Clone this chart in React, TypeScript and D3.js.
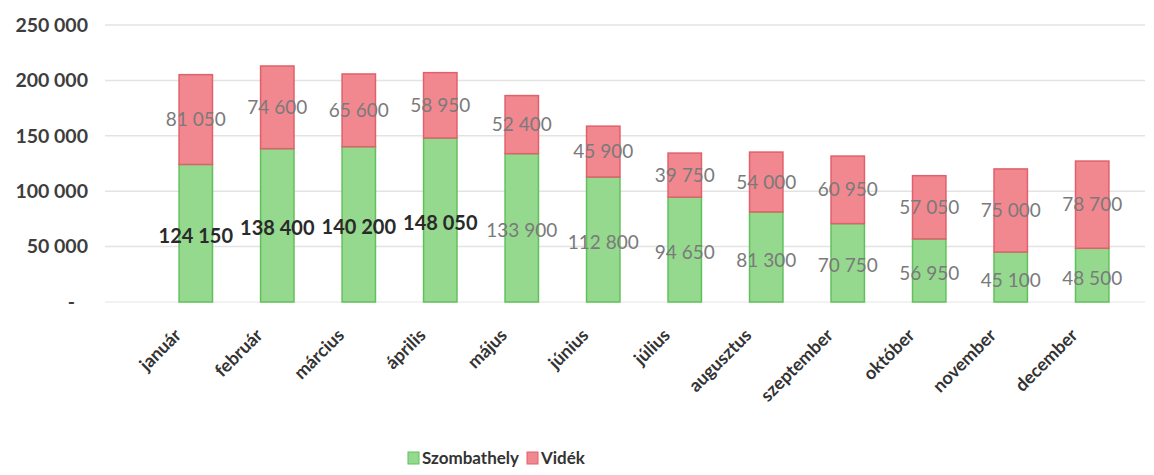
import React from "react";
import * as d3 from "d3";

const months = [
  "január", "február", "március", "április", "május", "június",
  "július", "augusztus", "szeptember", "október", "november", "december",
];
const szombathely = [124150, 138400, 140200, 148050, 133900, 112800, 94650, 81300, 70750, 56950, 45100, 48500];
const videk = [81050, 74600, 65600, 58950, 52400, 45900, 39750, 54000, 60950, 57050, 75000, 78700];
const yTicks = [0, 50000, 100000, 150000, 200000, 250000];
const seriesNames = ["Szombathely", "Vidék"];

const W = 1154;
const H = 475;
const FONT = "Lato, 'Open Sans', sans-serif";

const GREEN = "#94d98e";
const GREEN_EDGE = "#62c05c";
const PINK = "#f2888f";
const PINK_EDGE = "#e0606b";

const fmt = (v: number) => (v === 0 ? "-" : d3.format(",")(v).replace(/,/g, " "));

const App: React.FC = () => {
  const x = d3.scaleBand<string>().domain(months).range([131, 1157]).padding(0.59);
  const y = d3.scaleLinear().domain([0, 250000]).range([302, 25]);

  const rows = months.map((m, i) => ({ m, s: szombathely[i], v: videk[i] }));

  return (
    <svg width={W} height={H} style={{ display: "block", position: "absolute", left: 0, top: 0 }} fontFamily={FONT}>
      <rect width={W} height={H} fill="#ffffff" />
      {/* gridlines */}
      {yTicks.slice(1).map((t) => (
        <line key={t} x1={105} x2={1145} y1={y(t)} y2={y(t)} stroke="#e3e3e3" strokeWidth={1.5} />
      ))}
      <line x1={105} x2={1145} y1={y(0)} y2={y(0)} stroke="#eeeeee" strokeWidth={1.5} />
      {/* y labels */}
      {yTicks.map((t) => (
        <text key={t} x={t === 0 ? 75 : 88} y={y(t)} dy="0.35em" textAnchor="end" fontSize={19.5} fontWeight={700} fill="#3d3d3d">
          {fmt(t)}
        </text>
      ))}
      {/* bars */}
      {rows.map((r) => {
        const bx = x(r.m) || 0;
        const bw = x.bandwidth();
        return (
          <g key={r.m}>
            <rect x={bx} y={y(r.s)} width={bw} height={y(0) - y(r.s)} fill={GREEN} stroke={GREEN_EDGE} strokeWidth={1.5} />
            <rect x={bx} y={y(r.s + r.v)} width={bw} height={y(r.s) - y(r.s + r.v)} fill={PINK} stroke={PINK_EDGE} strokeWidth={1.5} />
          </g>
        );
      })}
      {/* data labels */}
      {rows.map((r, i) => {
        const cx = (x(r.m) || 0) + x.bandwidth() / 2;
        const bold = i < 4;
        return (
          <g key={"l" + r.m}>
            <text x={cx} y={y(r.s / 2) + 3} dy="0.35em" textAnchor="middle" fontSize={bold ? 20 : 19} fontWeight={bold ? 700 : 400} fill={bold ? "#2a2a2a" : "#7a7a7a"}>
              {fmt(r.s)}
            </text>
            <text x={cx} y={y(r.s + r.v / 2)} dy="0.35em" textAnchor="middle" fontSize={19} fill="#7a7a7a">
              {fmt(r.v)}
            </text>
          </g>
        );
      })}
      {/* x labels */}
      {months.map((m) => {
        const cx = (x(m) || 0) + x.bandwidth() / 2 - 18;
        return (
          <g key={"x" + m} transform={`translate(${cx},332) rotate(-45)`}>
            <text x={0} y={0} textAnchor="end" dy="0.35em" fontSize={18} fontWeight={700} fill="#333333">
              {m}
            </text>
          </g>
        );
      })}
      {/* legend */}
      {seriesNames.map((n, i) => {
        const lx = i === 0 ? 408 : 527;
        return (
          <g key={n} transform={`translate(${lx},458)`}>
            <rect x={0} y={-6} width={11} height={12} fill={i === 0 ? GREEN : PINK} stroke={i === 0 ? GREEN_EDGE : PINK_EDGE} />
            <text x={14} y={0} dy="0.35em" fontSize={17} fontWeight={700} fill="#333333">
              {n}
            </text>
          </g>
        );
      })}
    </svg>
  );
};

export default App;
